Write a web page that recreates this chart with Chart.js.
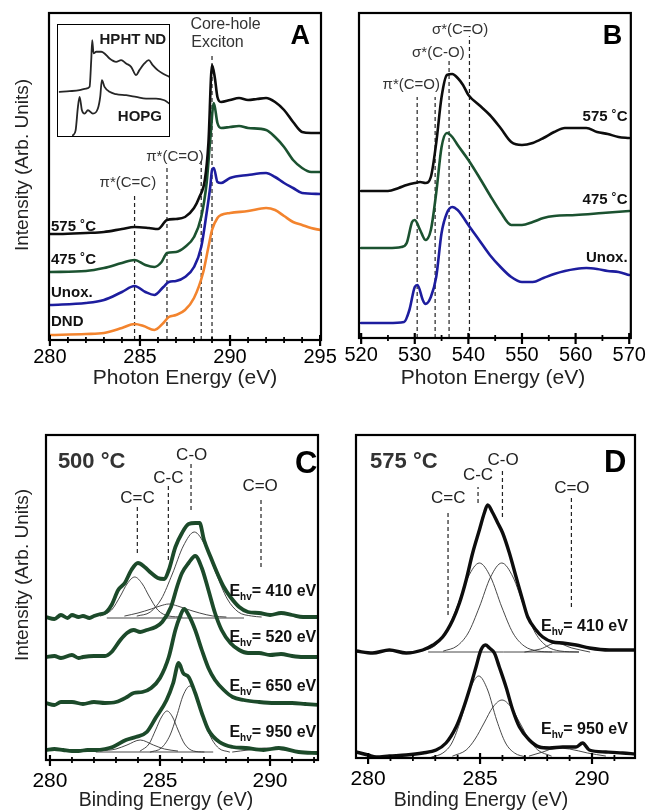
<!DOCTYPE html>
<html>
<head>
<meta charset="utf-8">
<script src="https://cdn.jsdelivr.net/npm/chart.js@4.4.1/dist/chart.umd.min.js"></script>
<style>
  html, body { margin: 0; padding: 0; background: #fff; }
  #wrap { position: relative; width: 651px; height: 811px; overflow: hidden; }
  #wrap canvas { position: absolute; left: 0; top: 0; }
  #wrap #inset { left: 57px; top: 24px; }
</style>
</head>
<body>
<div id="wrap">
  <canvas id="chartA" width="651" height="811"></canvas>
  <canvas id="chartB" width="651" height="811"></canvas>
  <canvas id="chartC" width="651" height="811"></canvas>
  <canvas id="chartD" width="651" height="811"></canvas>
  <canvas id="inset" width="113" height="113"></canvas>
</div>
<script>
/* ---- panel A : C K-edge NEXAFS ---- */
const a575x = [280, 280.5, 282, 283, 284, 284.7, 285.5, 286, 286.5, 287, 287.5, 288, 288.3, 288.6, 288.8, 289.0, 289.15, 289.3, 289.5, 290, 290.5, 291, 291.5, 292, 292.5, 293, 293.5, 294, 294.5, 295];
const a575y = [106, 106, 107, 108, 111, 113, 112, 111, 120, 121, 123, 132, 143, 160, 197, 275, 263, 243, 238, 240, 242, 240, 241, 242, 238, 230, 218, 208, 207, 207];
const a475x = [280, 282, 283, 284, 284.7, 285.3, 285.8, 286.2, 286.5, 287, 287.5, 288, 288.4, 288.7, 288.9, 289.1, 289.3, 289.5, 290, 290.5, 291, 292, 292.5, 293, 293.5, 294, 294.5, 295];
const a475y = [68, 69, 72, 77, 80, 75, 73, 78, 87, 88, 93, 103, 123, 157, 200, 237, 217, 212, 213, 214, 212, 210, 203, 193, 180, 172, 168, 168];
const aUnoxX = [280, 282, 283, 284, 284.7, 285.3, 285.8, 286.3, 286.6, 287, 287.5, 288, 288.4, 288.7, 288.9, 289.0, 289.1, 289.3, 289.5, 290, 291, 292, 292.5, 293, 293.5, 294, 295];
const aUnoxY = [35, 37, 40, 48, 54, 48, 45, 53, 58, 59, 63, 73, 93, 127, 153, 170, 172, 158, 157, 162, 165, 167, 163, 157, 152, 147, 146];
const aDndX = [280, 282, 283, 284, 284.7, 285.2, 285.8, 286.3, 286.6, 287, 287.5, 288, 288.5, 288.8, 289.0, 289.3, 289.5, 290, 291, 292, 292.5, 293, 293.5, 294, 294.5, 295];
const aDndY = [5, 6, 7, 12, 16, 14, 10, 17, 23, 25, 30, 42, 67, 93, 110, 122, 125, 127, 129, 132, 130, 124, 118, 115, 112, 110];
const aDashX = [284.7, 286.5, 288.4, 289.0];
const aDashTop = [147, 173, 182, 287];

/* inset (arbitrary units) */
const insHphtX = [8, 38, 68, 88, 98, 103, 106, 110, 118, 133, 143, 158, 178, 193, 208, 223, 238, 248, 263, 276, 288, 303, 318, 338];
const insHphtY = [135, 137, 140, 145, 150, 230, 290, 250, 255, 255, 250, 235, 225, 230, 220, 210, 185, 200, 220, 230, 215, 200, 190, 180];
const insHopgX = [48, 56, 63, 68, 75, 83, 93, 108, 123, 130, 135, 143, 158, 178, 208, 238, 268, 298, 323, 338];
const insHopgY = [5, 20, 90, 120, 80, 70, 80, 70, 85, 120, 170, 150, 135, 128, 125, 120, 115, 115, 110, 100];

/* ---- panel B : O K-edge NEXAFS ---- */
const b575x = [520, 525, 527, 528.5, 530, 531, 532, 533, 534, 535, 536, 537, 538, 539, 540, 542, 544, 546, 548, 550, 552, 554, 556, 558, 560, 562, 564, 566, 568, 570];
const b575y = [147, 147, 150, 153, 155, 156, 155, 161, 195, 241, 263, 264, 260, 253, 243, 233, 223, 210, 196, 193, 195, 200, 206, 210, 210, 210, 206, 204, 201, 200];
const b475x = [520, 525, 527.5, 528.5, 529.5, 530, 531, 532, 533, 534, 535, 536, 537, 538, 540, 542, 544, 546, 548, 550, 552, 554, 556, 560, 565, 570];
const b475y = [90, 90, 91, 95, 116, 118, 108, 98, 108, 145, 191, 205, 201, 193, 178, 161, 143, 126, 113, 113, 116, 120, 122, 123, 125, 127];
const bUnoxX = [520, 525, 528, 529, 530, 530.5, 531.5, 532, 533, 534, 535, 536, 537, 538, 539, 540, 542, 544, 546, 548, 550, 552, 554, 556, 558, 560, 562, 564, 566, 568, 570];
const bUnoxY = [15, 15, 16, 28, 51, 53, 38, 34, 41, 61, 105, 125, 131, 128, 121, 113, 98, 83, 71, 61, 56, 56, 60, 64, 67, 69, 70, 69, 67, 66, 63];
const bDashX = [530.45, 533.8, 536.4, 540.2];
const bDashTop = [241, 241, 278, 302];

/* ---- panel C : C 1s XPS, 500 C ---- */
const c410x = [279.82, 280.2, 280.5, 280.8, 281, 281.3, 281.5, 281.8, 282, 282.3, 282.5, 282.8, 283.1, 283.4, 283.7, 284.0, 284.3, 284.6, 284.9, 285.2, 285.4, 285.7, 286.0, 286.3, 286.6, 286.8, 287.0, 287.3, 287.6, 287.9, 288.2, 288.6, 289.0, 289.5, 290.0, 290.5, 291.0, 291.5, 292.2];
const c410y = [143, 141, 145, 142, 145, 143, 144, 142, 144, 146, 147, 155, 170, 177, 190, 197, 193, 187, 182, 181, 190, 213, 227, 236, 237, 237, 220, 203, 187, 173, 163, 153, 148, 147, 145, 147, 145, 143, 143];
const c520x = [279.82, 280.2, 280.5, 281, 281.3, 281.5, 282, 282.5, 282.8, 283.2, 283.5, 283.8, 284.1, 284.4, 284.8, 285.1, 285.5, 285.8, 286.0, 286.3, 286.6, 286.9, 287.2, 287.5, 287.8, 288.2, 288.6, 289.0, 289.5, 290, 290.5, 291, 291.5, 292.2];
const c520y = [103, 104, 102, 105, 102, 103, 104, 104, 108, 120, 127, 130, 128, 130, 133, 138, 153, 175, 187, 197, 204, 192, 170, 147, 130, 117, 110, 107, 107, 105, 106, 104, 103, 103];
const c650x = [279.82, 280.2, 280.5, 281, 281.5, 282, 282.5, 283.0, 283.5, 283.8, 284.2, 284.6, 285.0, 285.4, 285.7, 285.9, 286.1, 286.3, 286.6, 286.9, 287.2, 287.5, 287.9, 288.3, 288.8, 289.5, 290.2, 291, 291.6, 292.2];
const c650y = [57, 55, 58, 58, 56, 58, 57, 58, 63, 67, 68, 72, 82, 103, 130, 143, 151, 145, 130, 110, 92, 80, 70, 63, 60, 58, 57, 57, 56, 55];
const c950x = [279.82, 280.2, 280.6, 281.0, 281.3, 281.7, 282.1, 282.5, 282.85, 283.45, 283.9, 284.4, 284.8, 285.3, 285.6, 285.85, 286.05, 286.3, 286.6, 286.9, 287.2, 287.7, 288.3, 288.9, 289.7, 290.4, 291.3, 292.2];
const c950y = [10, 11, 10, 9, 9, 10, 10, 11, 13, 20, 23, 28, 42, 60, 77, 97, 87, 83, 67, 47, 30, 18, 13, 12, 10, 12, 8, 7];
/* fitted components */
const c410CCdx = [282.3, 282.8, 283.2, 283.5, 283.85, 284.2, 284.5, 284.9, 285.4, 286.0];
const c410CCdy = [144, 150, 164, 176, 183, 176, 164, 150, 144, 143];
const c410CCx = [283.4, 284.0, 284.6, 285.0, 285.4, 285.8, 286.2, 286.8, 287.4, 288.0];
const c410CCy = [144, 147, 151, 154, 156, 154, 151, 147, 144, 143];
const c410COx = [283.96, 284.56, 285.06, 285.56, 286.06, 286.56, 287.06, 287.56, 288.06, 288.56, 289.16, 289.6];
const c410COy = [144, 148, 161, 186, 214, 228, 214, 186, 161, 148, 144, 143];
const c410BaseX = [282.6, 288.8];
const c410BaseY = [142, 142];
const c950CCdx = [282.3, 283.0, 283.5, 284.1, 284.7, 285.2, 285.8];
const c950CCdy = [9, 11, 15, 20, 15, 11, 9];
const c950CCx = [284.1, 284.5, 284.8, 285.07, 285.32, 285.57, 285.82, 286.12, 286.52, 287.0];
const c950CCy = [9, 16, 30, 43, 49, 43, 30, 16, 9, 8];
const c950COx = [284.56, 285.06, 285.46, 285.76, 286.06, 286.36, 286.66, 286.96, 287.26, 287.66, 288.16];
const c950COy = [8, 12, 25, 44, 65, 74, 65, 44, 25, 12, 8];
const c950COdx = [288.3, 289.0, 289.8, 290.6, 291.4];
const c950COdy = [8, 10, 12, 10, 8];
const c950BaseX = [282.1, 287.4];
const c950BaseY = [8, 8];
const cDashX = [283.97, 285.38, 286.41, 289.59];
const cDashTop = [253, 274, 297, 263];
const cDashBot = [207, 200, 250, 193];

/* ---- panel D : C 1s XPS, 575 C ---- */
const d410x = [279.46, 280.2, 280.95, 281.7, 282.44, 282.9, 283.33, 283.78, 284.08, 284.38, 284.67, 284.97, 285.19, 285.34, 285.57, 285.79, 286.01, 286.31, 286.61, 286.9, 287.13, 287.5, 287.8, 288.24, 288.69, 289.29, 289.88, 290.77, 291.92];
const d410y = [107, 105, 108, 105, 108, 113, 121, 138, 155, 178, 205, 228, 245, 253, 245, 235, 225, 205, 181, 158, 141, 128, 121, 116, 115, 113, 110, 108, 108];
const d950x = [279.46, 280.0, 280.36, 280.95, 281.7, 282.44, 283.04, 283.48, 283.93, 284.23, 284.52, 284.82, 285.04, 285.24, 285.42, 285.64, 285.86, 286.16, 286.46, 286.76, 287.2, 287.65, 288.1, 288.69, 289.29, 289.58, 289.88, 290.62, 291.37, 291.92];
const d950y = [6, 3, 1, 2, 3, 5, 8, 15, 31, 48, 68, 91, 108, 113, 110, 105, 91, 71, 48, 31, 18, 11, 10, 11, 11, 15, 8, 6, 5, 4];
const d410CCx = [282.37, 282.97, 283.47, 283.97, 284.47, 284.97, 285.47, 285.97, 286.47, 286.97, 287.57, 288.2];
const d410CCy = [107, 112, 125, 151, 181, 195, 181, 151, 125, 112, 107, 106];
const d410COx = [283.37, 283.97, 284.47, 284.97, 285.47, 285.97, 286.47, 286.97, 287.47, 287.97, 288.57, 289.4];
const d410COy = [107, 112, 125, 151, 181, 195, 181, 151, 125, 112, 107, 106];
const d410COdx = [287.0, 287.7, 288.4, 289.1, 289.9];
const d410COdy = [106, 109, 115, 110, 106];
const d410BaseX = [282.7, 289.4];
const d410BaseY = [106, 106];
const d950CCx = [282.84, 283.34, 283.74, 284.14, 284.54, 284.94, 285.34, 285.74, 286.14, 286.54, 287.04];
const d950CCy = [1, 5, 15, 38, 68, 82, 68, 38, 15, 5, 1];
const d950COx = [283.78, 284.38, 284.78, 285.18, 285.58, 285.98, 286.38, 286.78, 287.18, 287.58, 288.18];
const d950COy = [2, 8, 19, 35, 51, 58, 51, 35, 19, 8, 2];
const d950COdx = [287.2, 287.8, 288.4, 289.0, 289.8, 290.6];
const d950COdy = [2, 6, 10, 9, 5, 2];
const dDashX = [283.57, 284.91, 286.0, 289.08];
const dDashTop = [248, 271, 288, 260];
const dDashBot = [143, 255, 241, 151];

/* ---- drawing ---- */
const FONT = '"Liberation Sans", Arial, Helvetica, sans-serif';
Chart.defaults.font.family = FONT;
const BLACK = '#0d0d0d', GREEN = '#1b5230', DKGREEN = '#1c4a2a', BLUE = '#1d1d9e', ORANGE = '#f3842e', THIN = '#333';

const line = (xs, ys, color, width) => ({
  data: xs.map((x, i) => ({ x: x, y: ys[i] })),
  borderColor: color, borderWidth: width, pointRadius: 0, fill: false,
  cubicInterpolationMode: 'monotone', borderJoinStyle: 'round', borderCapStyle: 'round'
});
const dashes = (xs, tops, bots) => xs.map((x, i) => ({
  data: [{ x: x, y: bots ? bots[i] : 0 }, { x: x, y: tops[i] }],
  borderColor: '#222', borderWidth: 1.2, borderDash: [4, 3], pointRadius: 0, fill: false
}));

function drawText(ctx, xs, ys, it) {
  const px = xs.getPixelForValue(it.x), py = ys.getPixelForValue(it.y);
  const f = sz => (it.bold ? 'bold ' : '') + sz + 'px ' + FONT;
  ctx.save();
  ctx.translate(px, py);
  if (it.rot) ctx.rotate(it.rot * Math.PI / 180);
  ctx.fillStyle = it.color || '#000';
  ctx.textBaseline = 'middle';
  if (it.sub) {
    const small = Math.round(it.size * 0.62);
    ctx.font = f(it.size);
    const w1 = ctx.measureText(it.sub[0]).width, w3 = ctx.measureText(it.sub[2]).width;
    ctx.font = f(small);
    const w2 = ctx.measureText(it.sub[1]).width;
    const tot = w1 + w2 + w3;
    const sx = it.align === 'right' ? -tot : it.align === 'center' ? -tot / 2 : 0;
    ctx.textAlign = 'left';
    ctx.font = f(it.size); ctx.fillText(it.sub[0], sx, 0);
    ctx.font = f(small); ctx.fillText(it.sub[1], sx + w1, it.size * 0.35);
    ctx.font = f(it.size); ctx.fillText(it.sub[2], sx + w1 + w2, 0);
  } else {
    ctx.font = f(it.size);
    ctx.textAlign = it.align || 'left';
    ctx.fillText(it.text, 0, 0);
  }
  ctx.restore();
}

const panelDraw = {
  id: 'panelDraw',
  afterDatasetsDraw(chart, args, opts) {
    const { ctx, chartArea: a, scales } = chart;
    ctx.save();
    ctx.strokeStyle = '#000';
    if (opts.box) {
      ctx.lineWidth = opts.box;
      ctx.strokeRect(a.left, a.top, a.right - a.left, a.bottom - a.top);
    }
    if (opts.ticks) {
      scales.x.ticks.forEach(t => {
        const px = scales.x.getPixelForValue(t.value);
        const major = t.label !== '';
        ctx.lineWidth = major ? 2.2 : 1.8;
        ctx.beginPath();
        ctx.moveTo(px, a.bottom - (major ? 5 : 3));
        ctx.lineTo(px, a.bottom + (major ? 6 : 3));
        ctx.stroke();
      });
    }
    ctx.restore();
    (opts.texts || []).forEach(it => drawText(ctx, scales.x, scales.y, it));
  }
};

function xScale(min, max, step, major, tickSize, axisH, pad) {
  return {
    type: 'linear', min: min, max: max,
    afterFit: s => { s.height = axisH; },
    grid: { display: false, drawTicks: false },
    border: { display: false },
    ticks: {
      stepSize: step, includeBounds: false, autoSkip: false, maxRotation: 0,
      padding: pad, color: '#000', font: { size: tickSize },
      callback: v => (Math.abs(v - Math.round(v)) < 1e-6 && Math.round(v) % major === 0) ? String(Math.round(v)) : ''
    }
  };
}
const yScale = max => ({ type: 'linear', display: false, min: 0, max: max });

function makeChart(id, datasets, padding, scaleX, maxY, opts) {
  return new Chart(document.getElementById(id), {
    type: 'line',
    data: { datasets: datasets },
    options: {
      responsive: false, animation: false, devicePixelRatio: 1,
      layout: { padding: padding },
      scales: { x: scaleX, y: yScale(maxY) },
      plugins: { legend: { display: false }, tooltip: { enabled: false }, panelDraw: opts }
    },
    plugins: [panelDraw]
  });
}

/* A */
makeChart('chartA', [
  line(a575x, a575y, BLACK, 2.6),
  line(a475x, a475y, GREEN, 2.6),
  line(aUnoxX, aUnoxY, BLUE, 2.6),
  line(aDndX, aDndY, ORANGE, 2.6)
].concat(dashes(aDashX, aDashTop)),
{ left: 49, right: 330, top: 13, bottom: 421 },
xScale(279.95, 295.05, 1, 5, 20, 50, 5), 327,
{ box: 2.2, ticks: true, texts: [
  { text: 'Intensity (Arb. Units)', x: 278.5, y: 175, size: 19, rot: -90, align: 'center', color: '#222' },
  { text: 'Photon Energy (eV)', x: 287.5, y: -38, size: 21, align: 'center', color: '#222' },
  { text: 'A', x: 293.9, y: 303, size: 27, bold: true, align: 'center' },
  { text: 'Core-hole', x: 287.8, y: 315, size: 16, color: '#333' },
  { text: 'Exciton', x: 287.85, y: 297, size: 16, color: '#333' },
  { text: 'π*(C=C)', x: 284.33, y: 157, size: 15, align: 'center', color: '#333' },
  { text: 'π*(C=O)', x: 286.94, y: 183, size: 15, align: 'center', color: '#333' },
  { text: '575 ˚C', x: 280.06, y: 113, size: 15, bold: true, color: '#111' },
  { text: '475 ˚C', x: 280.06, y: 80, size: 15, bold: true, color: '#111' },
  { text: 'Unox.', x: 280.06, y: 47, size: 15, bold: true, color: '#111' },
  { text: 'DND', x: 280.06, y: 18, size: 15, bold: true, color: '#111' }
] });

/* inset */
new Chart(document.getElementById('inset'), {
  type: 'line',
  data: { datasets: [line(insHphtX, insHphtY, '#262626', 1.8), line(insHopgX, insHopgY, '#262626', 1.8)] },
  options: {
    responsive: false, animation: false, devicePixelRatio: 1,
    layout: { padding: 0 },
    scales: { x: { type: 'linear', display: false, min: 0, max: 340 }, y: yScale(338) },
    plugins: { legend: { display: false }, tooltip: { enabled: false }, panelDraw: { box: 2, texts: [
      { text: 'HPHT ND', x: 128, y: 290, size: 15, bold: true, color: '#1a1a1a' },
      { text: 'HOPG', x: 183, y: 60, size: 15, bold: true, color: '#1a1a1a' }
    ] } }
  },
  plugins: [panelDraw]
});

/* B */
makeChart('chartB', [
  line(b575x, b575y, BLACK, 2.6),
  line(b475x, b475y, GREEN, 2.6),
  line(bUnoxX, bUnoxY, BLUE, 2.6)
].concat(dashes(bDashX, bDashTop)),
{ left: 359, right: 16, top: 13, bottom: 421 },
xScale(519.6, 570.3, 5, 10, 20, 52, 5), 325,
{ box: 2.2, ticks: true, texts: [
  { text: 'Photon Energy (eV)', x: 544.6, y: -40, size: 21, align: 'center', color: '#222' },
  { text: 'B', x: 566.9, y: 301, size: 27, bold: true, align: 'center' },
  { text: 'π*(C=O)', x: 524.0, y: 253, size: 15, color: '#333' },
  { text: 'σ*(C-O)', x: 529.5, y: 285, size: 15, color: '#333' },
  { text: 'σ*(C=O)', x: 533.2, y: 308, size: 15, color: '#333' },
  { text: '575 ˚C', x: 569.7, y: 221, size: 15, bold: true, align: 'right', color: '#111' },
  { text: '475 ˚C', x: 569.7, y: 138, size: 15, bold: true, align: 'right', color: '#111' },
  { text: 'Unox.', x: 569.7, y: 80, size: 15, bold: true, align: 'right', color: '#111' }
] });

/* C */
makeChart('chartC', [
  line(c410x, c410y, DKGREEN, 3.8),
  line(c520x, c520y, DKGREEN, 3.8),
  line(c650x, c650y, DKGREEN, 3.8),
  line(c950x, c950y, DKGREEN, 3.8),
  line(c410CCdx, c410CCdy, THIN, 0.9),
  line(c410CCx, c410CCy, THIN, 0.9),
  line(c410COx, c410COy, THIN, 0.9),
  line(c410BaseX, c410BaseY, THIN, 0.9),
  line(c950CCdx, c950CCdy, THIN, 0.9),
  line(c950CCx, c950CCy, THIN, 0.9),
  line(c950COx, c950COy, THIN, 0.9),
  line(c950COdx, c950COdy, THIN, 0.9),
  line(c950BaseX, c950BaseY, THIN, 0.9)
].concat(dashes(cDashX, cDashTop, cDashBot)),
{ left: 46, right: 333, top: 435, bottom: 0 },
xScale(279.82, 292.18, 1, 5, 21, 51, 9), 325,
{ box: 2.2, ticks: true, texts: [
  { text: 'Intensity (Arb. Units)', x: 278.77, y: 185, size: 19, rot: -90, align: 'center', color: '#222' },
  { text: 'Binding Energy (eV)', x: 285.27, y: -41, size: 19.5, align: 'center', color: '#222' },
  { text: '500 °C', x: 280.36, y: 298, size: 22, bold: true, color: '#333' },
  { text: 'C', x: 291.64, y: 296, size: 31, bold: true, align: 'center' },
  { text: 'C=C', x: 283.98, y: 262, size: 17, align: 'center', color: '#222' },
  { text: 'C-C', x: 285.38, y: 282, size: 17, align: 'center', color: '#222' },
  { text: 'C-O', x: 286.44, y: 305, size: 17, align: 'center', color: '#222' },
  { text: 'C=O', x: 289.55, y: 274, size: 17, align: 'center', color: '#222' },
  { sub: ['E', 'hv', '= 410 eV'], x: 292.1, y: 168, size: 16, bold: true, align: 'right', color: '#111' },
  { sub: ['E', 'hv', '= 520 eV'], x: 292.1, y: 122, size: 16, bold: true, align: 'right', color: '#111' },
  { sub: ['E', 'hv', '= 650 eV'], x: 292.1, y: 73, size: 16, bold: true, align: 'right', color: '#111' },
  { sub: ['E', 'hv', '= 950 eV'], x: 292.1, y: 27, size: 16, bold: true, align: 'right', color: '#111' }
] });

/* D */
makeChart('chartD', [
  line(d410x, d410y, BLACK, 3.4),
  line(d950x, d950y, BLACK, 3.4),
  line(d410CCx, d410CCy, THIN, 0.9),
  line(d410COx, d410COy, THIN, 0.9),
  line(d410COdx, d410COdy, THIN, 0.9),
  line(d410BaseX, d410BaseY, THIN, 0.9),
  line(d950CCx, d950CCy, THIN, 0.9),
  line(d950COx, d950COy, THIN, 0.9),
  line(d950COdx, d950COdy, THIN, 0.9)
].concat(dashes(dDashX, dDashTop, dDashBot)),
{ left: 356, right: 16, top: 435, bottom: 0 },
xScale(279.46, 291.92, 1, 5, 21, 53, 9), 323,
{ box: 2.2, ticks: true, texts: [
  { text: 'Binding Energy (eV)', x: 285.04, y: -43, size: 19.5, align: 'center', color: '#222' },
  { text: '575 °C', x: 280.09, y: 296, size: 22, bold: true, color: '#333' },
  { text: 'D', x: 291.03, y: 295, size: 31, bold: true, align: 'center' },
  { text: 'C=C', x: 283.58, y: 260, size: 17, align: 'center', color: '#222' },
  { text: 'C-C', x: 284.91, y: 283, size: 17, align: 'center', color: '#222' },
  { text: 'C-O', x: 286.03, y: 298, size: 17, align: 'center', color: '#222' },
  { text: 'C=O', x: 289.1, y: 270, size: 17, align: 'center', color: '#222' },
  { sub: ['E', 'hv', '= 410 eV'], x: 291.6, y: 131, size: 16, bold: true, align: 'right', color: '#111' },
  { sub: ['E', 'hv', '= 950 eV'], x: 291.6, y: 28, size: 16, bold: true, align: 'right', color: '#111' }
] });
</script>
</body>
</html>
